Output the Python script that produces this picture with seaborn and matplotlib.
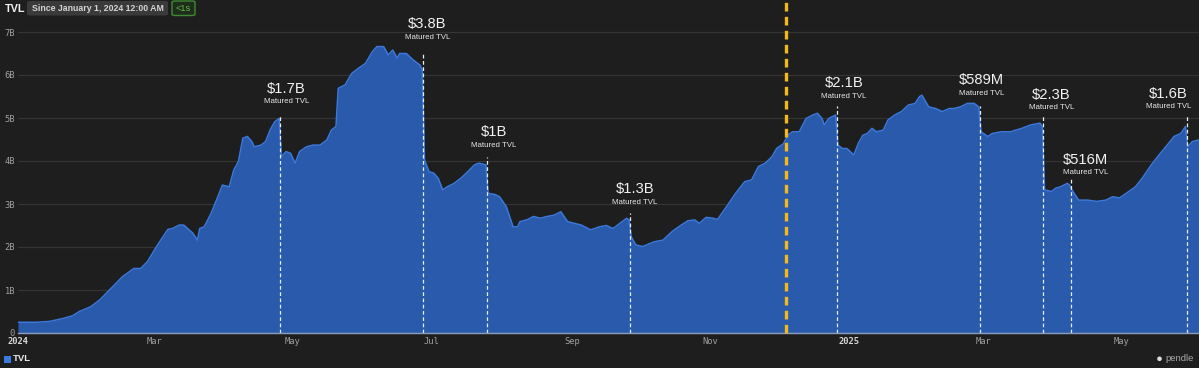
import matplotlib
matplotlib.use("Agg")
import matplotlib.pyplot as plt
from matplotlib.patches import FancyBboxPatch, Ellipse
import pandas as pd
import seaborn as sns

# ---------------- data (TVL in billions USD) ----------------
dates = [
    "2024-01-01", "2024-01-09", "2024-01-15", "2024-01-21", "2024-01-25", "2024-01-28",
    "2024-02-02", "2024-02-06", "2024-02-11", "2024-02-16", "2024-02-21", "2024-02-24",
    "2024-02-27", "2024-03-02", "2024-03-07", "2024-03-09", "2024-03-12", "2024-03-14",
    "2024-03-18", "2024-03-20", "2024-03-21", "2024-03-23", "2024-03-26", "2024-03-29",
    "2024-03-31", "2024-04-03", "2024-04-05", "2024-04-07", "2024-04-09", "2024-04-11",
    "2024-04-13", "2024-04-14", "2024-04-17", "2024-04-19", "2024-04-21", "2024-04-23",
    "2024-04-25", "2024-04-26", "2024-04-28", "2024-04-30", "2024-05-02", "2024-05-04",
    "2024-05-07", "2024-05-10", "2024-05-13", "2024-05-16", "2024-05-18", "2024-05-20",
    "2024-05-21", "2024-05-24", "2024-05-27", "2024-05-30", "2024-06-02", "2024-06-05",
    "2024-06-07", "2024-06-10", "2024-06-12", "2024-06-14", "2024-06-16", "2024-06-17",
    "2024-06-20", "2024-06-23", "2024-06-26", "2024-06-27", "2024-06-28", "2024-06-30",
    "2024-07-02", "2024-07-04", "2024-07-06", "2024-07-08", "2024-07-11", "2024-07-14",
    "2024-07-17", "2024-07-20", "2024-07-22", "2024-07-25", "2024-07-26", "2024-07-29",
    "2024-07-31", "2024-08-03", "2024-08-06", "2024-08-08", "2024-08-09", "2024-08-12",
    "2024-08-15", "2024-08-18", "2024-08-21", "2024-08-24", "2024-08-27", "2024-08-30",
    "2024-09-02", "2024-09-05", "2024-09-08", "2024-09-09", "2024-09-11", "2024-09-13",
    "2024-09-16", "2024-09-19", "2024-09-22", "2024-09-25", "2024-09-26", "2024-09-27",
    "2024-09-29", "2024-10-02", "2024-10-07", "2024-10-11", "2024-10-15", "2024-10-19",
    "2024-10-22", "2024-10-25", "2024-10-27", "2024-10-30", "2024-11-02", "2024-11-04",
    "2024-11-08", "2024-11-12", "2024-11-16", "2024-11-19", "2024-11-22", "2024-11-25",
    "2024-11-28", "2024-11-30", "2024-12-03", "2024-12-05", "2024-12-07", "2024-12-10",
    "2024-12-13", "2024-12-16", "2024-12-18", "2024-12-20", "2024-12-21", "2024-12-23",
    "2024-12-26", "2024-12-27", "2024-12-29", "2024-12-31", "2025-01-03", "2025-01-05",
    "2025-01-07", "2025-01-09", "2025-01-11", "2025-01-13", "2025-01-16", "2025-01-18",
    "2025-01-21", "2025-01-24", "2025-01-27", "2025-01-30", "2025-02-01", "2025-02-02",
    "2025-02-05", "2025-02-08", "2025-02-11", "2025-02-14", "2025-02-16", "2025-02-19",
    "2025-02-22", "2025-02-25", "2025-02-27", "2025-02-28", "2025-03-03", "2025-03-05",
    "2025-03-09", "2025-03-13", "2025-03-18", "2025-03-22", "2025-03-26", "2025-03-27",
    "2025-03-28", "2025-03-31", "2025-04-02", "2025-04-04", "2025-04-07", "2025-04-08",
    "2025-04-09", "2025-04-12", "2025-04-16", "2025-04-20", "2025-04-24", "2025-04-27",
    "2025-04-30", "2025-05-03", "2025-05-07", "2025-05-10", "2025-05-14", "2025-05-18",
    "2025-05-21", "2025-05-24", "2025-05-27", "2025-05-29", "2025-05-30", "2025-06-01",
    "2025-06-04",
]
tvl_b = [
    0.25, 0.25, 0.27, 0.34, 0.40, 0.50,
    0.61, 0.77, 1.04, 1.31, 1.50, 1.50,
    1.66, 2.01, 2.41, 2.43, 2.51, 2.51,
    2.32, 2.16, 2.43, 2.47, 2.78, 3.17,
    3.44, 3.40, 3.79, 3.98, 4.53, 4.57,
    4.45, 4.33, 4.37, 4.45, 4.72, 4.91,
    4.99, 4.10, 4.22, 4.18, 3.95, 4.22,
    4.33, 4.37, 4.37, 4.49, 4.72, 4.80,
    5.69, 5.77, 6.04, 6.16, 6.27, 6.54,
    6.66, 6.66, 6.47, 6.58, 6.39, 6.50,
    6.50, 6.35, 6.23, 6.12, 4.02, 3.75,
    3.72, 3.60, 3.33, 3.40, 3.48, 3.60,
    3.75, 3.91, 3.95, 3.91, 3.25, 3.22,
    3.17, 2.94, 2.47, 2.47, 2.59, 2.63,
    2.71, 2.67, 2.71, 2.74, 2.82, 2.59,
    2.55, 2.51, 2.43, 2.40, 2.43, 2.47,
    2.50, 2.43, 2.55, 2.67, 2.63, 2.24,
    2.05, 2.01, 2.12, 2.16, 2.36, 2.51,
    2.61, 2.63, 2.55, 2.69, 2.67, 2.64,
    2.94, 3.25, 3.52, 3.56, 3.87, 3.95,
    4.10, 4.29, 4.40, 4.60, 4.68, 4.68,
    4.99, 5.07, 5.11, 4.99, 4.84, 4.99,
    5.07, 4.37, 4.29, 4.29, 4.14, 4.41,
    4.60, 4.64, 4.76, 4.68, 4.72, 4.95,
    5.07, 5.15, 5.30, 5.34, 5.50, 5.53,
    5.26, 5.22, 5.15, 5.22, 5.22, 5.26,
    5.34, 5.34, 5.26, 4.68, 4.57, 4.64,
    4.68, 4.68, 4.76, 4.84, 4.88, 4.80,
    3.33, 3.29, 3.37, 3.40, 3.48, 3.44,
    3.33, 3.09, 3.09, 3.06, 3.09, 3.17,
    3.14, 3.25, 3.40, 3.60, 3.91, 4.18,
    4.37, 4.57, 4.64, 4.80, 4.33, 4.45,
    4.49,
]

matured_dates = ["2024-04-25 12:00", "2024-06-27 12:00", "2024-07-25 12:00",
                 "2024-09-26 12:00", "2024-12-26 12:00", "2025-02-27 12:00",
                 "2025-03-27 12:00", "2025-04-08 12:00", "2025-05-29 12:00"]
matured_labels = ["$1.7B", "$3.8B", "$1B", "$1.3B", "$2.1B", "$589M",
                  "$2.3B", "$516M", "$1.6B"]
marker_date = "2024-12-04"

xtick_dates = ["2024-01-01", "2024-03-01", "2024-05-01", "2024-07-01", "2024-09-01",
               "2024-11-01", "2025-01-01", "2025-03-01", "2025-05-01"]
xtick_labels = ["2024", "Mar", "May", "Jul", "Sep", "Nov", "2025", "Mar", "May"]
ytick_values = [0, 1, 2, 3, 4, 5, 6, 7]
ytick_labels = ["0", "1B", "2B", "3B", "4B", "5B", "6B", "7B"]

# ---------------- layout (annotation geometry, in billions / pixels) ----------------
line_tops = [5.07, 6.54, 4.10, 2.78, 5.28, 5.28, 5.07, 3.60, 5.07]
label_levels = [5.38, 6.88, 4.37, 3.04, 5.50, 5.57, 5.24, 3.73, 5.26]
label_dx_px = [6, 4, 7, 5, 7, 2, 8, 15, -18]

# ---------------- style ----------------
W, H, DPI = 1199, 368, 100
BG = "#1e1e1e"
FILL = "#2a5aab"
EDGE = "#3b78dc"
GRID = "#343434"
TICK = "#a0a0a0"
PT = 72.0 / DPI  # points per pixel

sns.set_theme(style="dark")
plt.rcParams["font.family"] = ["Liberation Sans", "DejaVu Sans"]

fig = plt.figure(figsize=(W / DPI, H / DPI), dpi=DPI, facecolor=BG)
ax_left, ax_bottom, ax_top_px = 18, 333, 21.25
ax = fig.add_axes([ax_left / W, 1 - ax_bottom / H, 1 - ax_left / W,
                   (ax_bottom - ax_top_px) / H])
ax.set_facecolor(BG)

df = pd.DataFrame({"date": pd.to_datetime(dates), "tvl": tvl_b})
ax.fill_between(df["date"], df["tvl"], 0, color=FILL, lw=0, zorder=2)
sns.lineplot(data=df, x="date", y="tvl", ax=ax, color=EDGE, lw=1.1,
             legend=False, zorder=3)

ax.set_xlim(pd.Timestamp(dates[0]), pd.Timestamp(dates[-1]))
ax.set_ylim(0, 7.25)

# grid
for v in ytick_values[1:]:
    ax.axhline(v, color=GRID, lw=0.9, zorder=1)

# ticks
ax.set_yticks(ytick_values)
ax.set_yticklabels(ytick_labels, family="DejaVu Sans Mono", fontsize=6.3, color=TICK)
ax.set_xticks(pd.to_datetime(xtick_dates))
ax.set_xticklabels(xtick_labels, family="DejaVu Sans Mono", fontsize=6.3, color=TICK)
for lab in ax.get_xticklabels():
    if lab.get_text().isdigit():
        lab.set_color("#d6d6d6")
        lab.set_fontweight("bold")
ax.tick_params(axis="both", length=0)
ax.tick_params(axis="y", pad=2.2)
ax.tick_params(axis="x", pad=2.6)
ax.set_xlabel("")
ax.set_ylabel("")
for s in ["top", "right", "left"]:
    ax.spines[s].set_visible(False)
ax.spines["bottom"].set_color("#8ea0c0")
ax.spines["bottom"].set_linewidth(1.0)
ax.spines["bottom"].set_zorder(4)
ax.grid(False)

# yellow marker line
ax.axvline(pd.Timestamp(marker_date), ymin=0, ymax=ax_bottom / (ax_bottom - ax_top_px),
           color="#f2b81c", lw=2.4, ls=(0, (2.6, 1.6)), clip_on=False, zorder=5)

# matured annotations
for d, lab, top, lvl, dx in zip(matured_dates, matured_labels, line_tops,
                                label_levels, label_dx_px):
    t = pd.Timestamp(d)
    ax.vlines(t, 0, top, colors="#e8eefa", lw=0.9, linestyles=(0, (3, 2)), zorder=4)
    ax.annotate("Matured TVL", (t, lvl), xytext=(dx * PT, 0), textcoords="offset points",
                ha="center", va="center", fontsize=5.7, color="#e6e6e6",
                annotation_clip=False, zorder=6)
    ax.annotate(lab, (t, lvl), xytext=(dx * PT, 13 * PT), textcoords="offset points",
                ha="center", va="center", fontsize=10.6, color="#f2f2f2",
                annotation_clip=False, zorder=6)

# header
def fx(px):
    return px / W

def fy(py):
    return 1 - py / H

fig.text(fx(5), fy(8.5), "TVL", fontsize=7.8, fontweight="bold", color="#f0f0f0",
         ha="left", va="center")
fig.patches.append(FancyBboxPatch((fx(27), fy(15.5)), fx(141), 14.5 / H,
                                  boxstyle="round,pad=0,rounding_size=0.003",
                                  transform=fig.transFigure, fc="#3a3a3a", ec="none"))
fig.text(fx(97.5), fy(8.3), "Since January 1, 2024 12:00 AM", fontsize=6.35,
         fontweight="bold", color="#d4d4d4", ha="center", va="center")
fig.patches.append(FancyBboxPatch((fx(172), fy(15.5)), fx(23), 14.5 / H,
                                  boxstyle="round,pad=0,rounding_size=0.003",
                                  transform=fig.transFigure, fc="#1f2e1c",
                                  ec="#3f8a32", lw=1.0))
fig.text(fx(183.5), fy(8.3), "<1s", fontsize=6.6, color="#63b64a",
         ha="center", va="center")

# legend
fig.patches.append(plt.Rectangle((fx(4), fy(363)), fx(7), 7.5 / H,
                                 transform=fig.transFigure, fc="#3a7be0", ec="none"))
fig.text(fx(13), fy(358.8), "TVL", fontsize=6.8, fontweight="bold", color="#e8e8e8",
         ha="left", va="center")

# watermark
fig.patches.append(Ellipse((fx(1159.5), fy(358.8)), 4.6 / W, 4.6 / H,
                           transform=fig.transFigure, fc="#dddddd", ec="none"))
fig.text(fx(1165), fy(358.8), "pendle", fontsize=6.8, color="#a8a8a8",
         ha="left", va="center")

fig.savefig("out.png", dpi=DPI, facecolor=BG)
